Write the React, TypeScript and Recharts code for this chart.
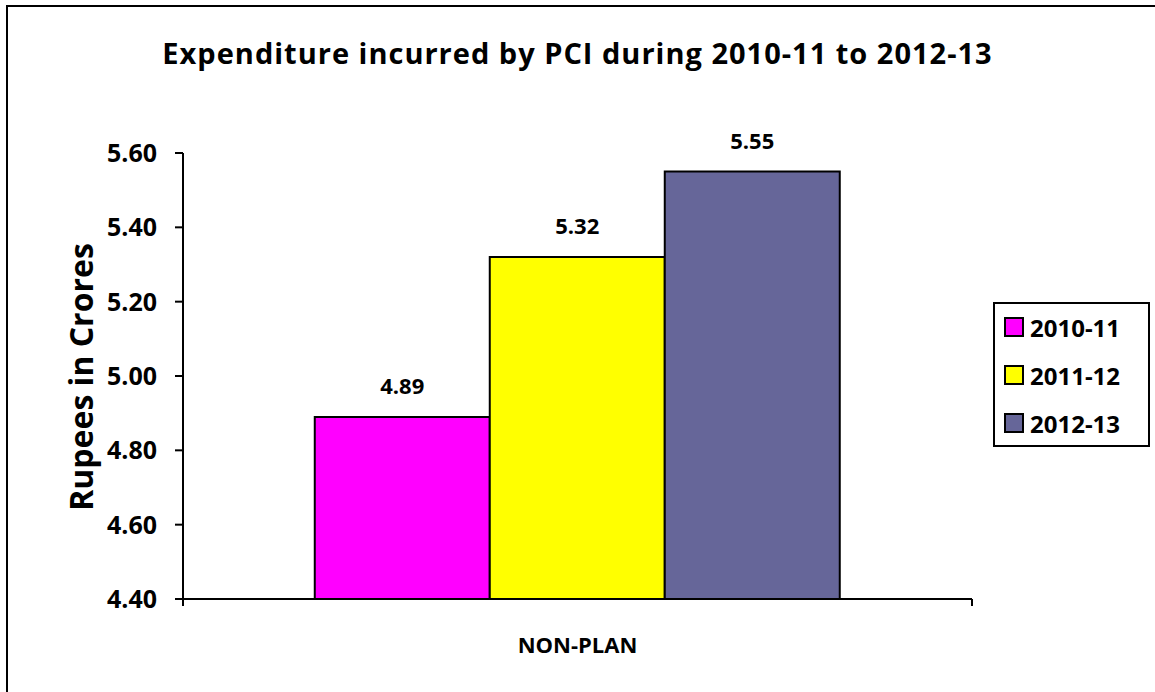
import { BarChart, Bar, XAxis, YAxis, LabelList, usePlotArea } from 'recharts';

const categories = ['NON-PLAN'];
const years = ['2010-11', '2011-12', '2012-13'];
const expenditure2010 = [4.89];
const expenditure2011 = [5.32];
const expenditure2012 = [5.55];
const yTicks = [4.4, 4.6, 4.8, 5.0, 5.2, 5.4, 5.6];

const colors = ['#FF00FF', '#FFFF00', '#666699'];
const FONT = '"Open Sans", Lato, sans-serif';

const data = categories.map((cat, i) => ({
  cat,
  [years[0]]: expenditure2010[i],
  [years[1]]: expenditure2011[i],
  [years[2]]: expenditure2012[i],
}));

// petits traits aux bords de la catégorie, comme dans Excel
const BoundaryTicks = () => {
  const area = usePlotArea ? usePlotArea() : null;
  if (!area) return null;
  const y = area.y + area.height;
  return (
    <g stroke="#000" strokeWidth={2}>
      <line x1={area.x} y1={y} x2={area.x} y2={y + 7} />
      <line x1={area.x + area.width} y1={y} x2={area.x + area.width} y2={y + 7} />
    </g>
  );
};

const LegendBox = () => (
  <div
    style={{
      border: '2px solid #000',
      width: 157,
      height: 145,
      boxSizing: 'border-box',
      padding: '0 0 0 9px',
      background: '#fff',
    }}
  >
    {years.map((y, i) => (
      <div key={y} style={{ display: 'flex', alignItems: 'center', height: 48, marginTop: i === 0 ? -1 : 0 }}>
        <span
          style={{
            display: 'inline-block',
            width: 16,
            height: 16,
            background: colors[i],
            border: '2px solid #000',
            marginRight: 6,
          }}
        />
        <span style={{ fontFamily: FONT, fontWeight: 700, fontSize: 24, color: '#000' }}>{y}</span>
      </div>
    ))}
  </div>
);

const YLabel = () => (
  <text
    transform="translate(80,377) rotate(-90)"
    textAnchor="middle"
    dominantBaseline="central"
    style={{ fill: '#000', fontFamily: FONT, fontWeight: 700, fontSize: 32 }}
  >
    Rupees in Crores
  </text>
);

export default function App() {
  return (
    <div style={{ position: 'absolute', left: 0, top: 0, width: 1155, height: 692, background: '#fff', overflow: 'hidden' }}>
      <div
        style={{
          position: 'absolute',
          left: 6,
          top: 5,
          width: 1160,
          height: 700,
          border: '2px solid #000',
          boxSizing: 'border-box',
        }}
      />
      <div
        style={{
          position: 'absolute',
          left: 0,
          width: 1155,
          top: 34,
          textAlign: 'center',
          fontFamily: FONT,
          fontWeight: 700,
          fontSize: 29,
          letterSpacing: 1,
          color: '#000',
          lineHeight: '38px',
        }}
      >
        Expenditure incurred by PCI during 2010-11 to 2012-13
      </div>
      <div style={{ position: 'absolute', left: 993, top: 302 }}>
        <LegendBox />
      </div>
      <div style={{ position: 'absolute', left: 0, top: 0 }}>
        <BarChart
          width={1155}
          height={692}
          data={data}
          margin={{ top: 153, right: 183, left: 103, bottom: 43 }}
          barGap={0}
          barCategoryGap="16.7%"
        >
          <XAxis
            dataKey="cat"
            height={50}
            axisLine={{ stroke: '#000', strokeWidth: 2 }}
            tickLine={false}
            tick={{ fill: '#000', fontFamily: FONT, fontWeight: 700, fontSize: 22 }}
            tickMargin={32}
          />
          <YAxis
            width={80}
            domain={[4.4, 5.6]}
            ticks={yTicks}
            interval={0}
            tickFormatter={(v: number) => v.toFixed(2)}
            axisLine={{ stroke: '#000', strokeWidth: 2 }}
            tickLine={{ stroke: '#000', strokeWidth: 2 }}
            tickSize={8}
            tickMargin={18}
            tick={{ fill: '#000', fontFamily: FONT, fontWeight: 700, fontSize: 25 }}
          />
          {years.map((y, i) => (
            <Bar key={y} dataKey={y} fill={colors[i]} stroke="#000" strokeWidth={2} isAnimationActive={false}>
              <LabelList
                dataKey={y}
                position="top"
                offset={23}
                formatter={(v: any) => Number(v).toFixed(2)}
                style={{ fill: '#000', fontFamily: FONT, fontWeight: 700, fontSize: 22 }}
              />
            </Bar>
          ))}
          <BoundaryTicks />
          <YLabel />
        </BarChart>
      </div>
    </div>
  );
}
